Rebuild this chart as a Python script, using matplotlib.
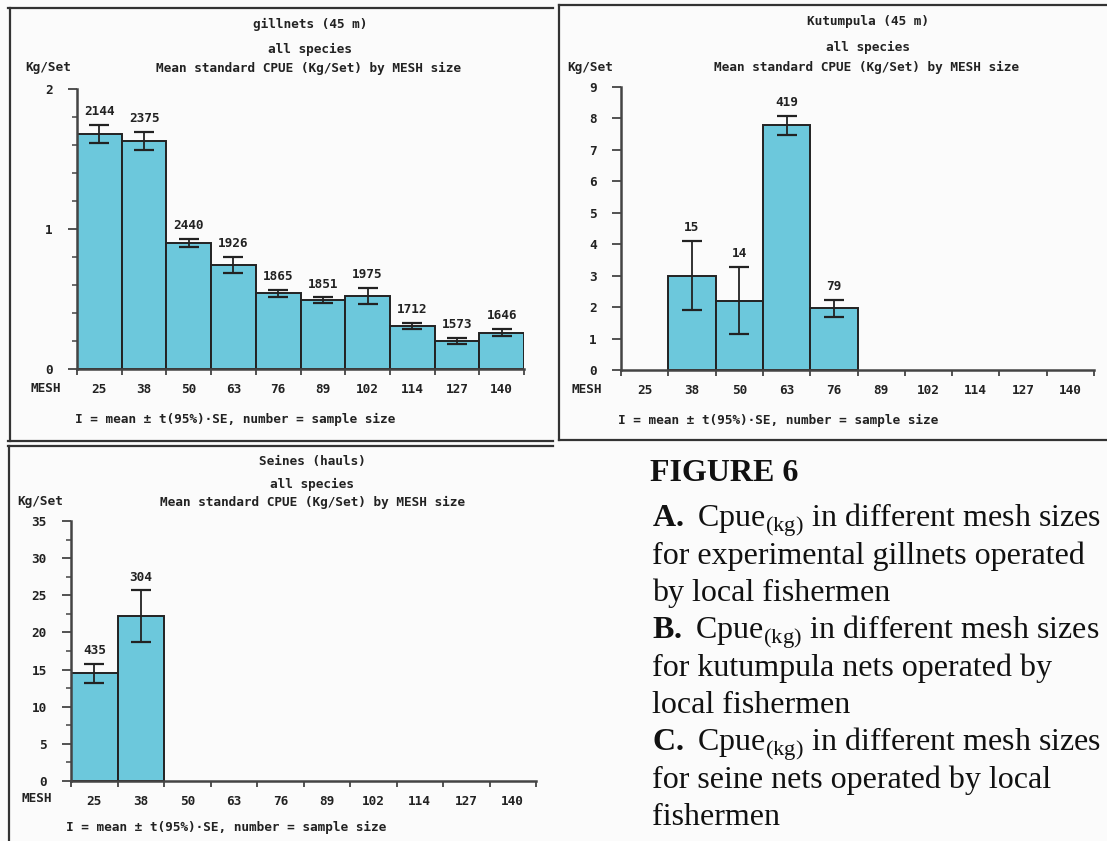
import numpy as np
import matplotlib
matplotlib.use("Agg")
import matplotlib.pyplot as plt
from matplotlib.lines import Line2D
from matplotlib.ticker import MultipleLocator

# mesh size classes (mm)
mesh = ['25', '38', '50', '63', '76', '89', '102', '114', '127', '140']

# A. gillnets (45 m)
gill_mean = [1.68, 1.63, 0.90, 0.74, 0.54, 0.49, 0.52, 0.31, 0.20, 0.26]
gill_err = [0.065, 0.066, 0.032, 0.057, 0.026, 0.021, 0.058, 0.022, 0.022, 0.027]
gill_n = [2144, 2375, 2440, 1926, 1865, 1851, 1975, 1712, 1573, 1646]

# B. kutumpula (45 m), None = no data
kut_mean = [None, 3.0, 2.21, 7.78, 1.96, None, None, None, None, None]
kut_err = [None, 1.1, 1.06, 0.30, 0.26, None, None, None, None, None]
kut_n = [None, 15, 14, 419, 79, None, None, None, None, None]

# C. seines (hauls)
sei_mean = [14.5, 22.2, None, None, None, None, None, None, None, None]
sei_err = [1.25, 3.45, None, None, None, None, None, None, None, None]
sei_n = [435, 304, None, None, None, None, None, None, None, None]

W, H = 1107, 841
BAR = '#6cc8dc'
INK = '#222222'
MONO = 'DejaVu Sans Mono'
FS = 9.2

plt.rcParams['mathtext.fontset'] = 'custom'
plt.rcParams['mathtext.rm'] = 'Liberation Serif'
plt.rcParams['mathtext.bf'] = 'Liberation Serif:bold'

fig = plt.figure(figsize=(W / 100, H / 100), dpi=100)
fig.patch.set_facecolor('#fbfbfb')


def fx(x):
    return x / W


def fy(y):
    return 1 - y / H


def ftext(x, y, s, **kw):
    kw.setdefault('ha', 'center')
    kw.setdefault('va', 'center')
    fig.text(fx(x), fy(y), s, family=MONO, weight='bold', fontsize=FS, color=INK, **kw)


def fline(xs, ys):
    fig.add_artist(Line2D([fx(v) for v in xs], [fy(v) for v in ys],
                          transform=fig.transFigure, color='#333333', lw=1.6))


def panel(rect, means, errs, counts, ymax, major, minor):
    ax = fig.add_axes([fx(rect[0]), fy(rect[3]), fx(rect[2] - rect[0]), (rect[3] - rect[1]) / H])
    ax.set_facecolor('none')
    idx = [i for i, m in enumerate(means) if m is not None]
    vals = [means[i] for i in idx]
    ers = [errs[i] for i in idx]
    ax.bar(idx, vals, width=1.0, color=BAR, edgecolor=INK, linewidth=1.4, zorder=2)
    ax.errorbar(idx, vals, yerr=ers, fmt='none', ecolor=INK, elinewidth=1.3,
                capsize=7, capthick=1.6, zorder=3)
    for i, v, e in zip(idx, vals, ers):
        ax.annotate(str(counts[i]), (i, v + e), xytext=(0, 5), textcoords='offset points',
                    ha='center', va='bottom', family=MONO, weight='bold',
                    fontsize=FS, color=INK)
    ax.set_xlim(-0.5, 9.5)
    ax.set_ylim(0, ymax)
    for s in ['top', 'right']:
        ax.spines[s].set_visible(False)
    for s in ['left', 'bottom']:
        ax.spines[s].set_color('#444444')
        ax.spines[s].set_linewidth(1.8)
    ax.set_xticks(range(10))
    ax.set_xticklabels(mesh)
    ax.set_xticks(np.arange(-0.5, 10, 1), minor=True)
    ax.tick_params(axis='x', which='major', length=0, pad=10)
    ax.tick_params(axis='x', which='minor', length=4, width=1.3, color='#444444')
    ax.yaxis.set_major_locator(MultipleLocator(major))
    if minor:
        ax.yaxis.set_minor_locator(MultipleLocator(minor))
    ax.tick_params(axis='y', which='major', length=6.5, width=1.3, color='#444444', pad=11)
    ax.tick_params(axis='y', which='minor', length=3.5, width=1.1, color='#444444')
    for lab in ax.get_xticklabels() + ax.get_yticklabels():
        lab.set_family(MONO)
        lab.set_weight('bold')
        lab.set_fontsize(FS)
        lab.set_color(INK)
    return ax


note = 'I = mean \u00b1 t(95%)\u00b7SE, number = sample size'
sub = 'Mean standard CPUE (Kg/Set) by MESH size'

# A
panel((77, 89, 524, 369), gill_mean, gill_err, gill_n, 2, 1, 0.2)
ftext(310, 24, 'gillnets (45 m)')
ftext(310, 49, 'all species')
ftext(309, 68, sub)
ftext(48, 68, 'Kg/Set')
ftext(46, 388, 'MESH')
ftext(75, 419, note, ha='left')

# B
panel((621, 87, 1094, 370), kut_mean, kut_err, kut_n, 9, 1, None)
ftext(868, 22, 'Kutumpula (45 m)')
ftext(868, 47, 'all species')
ftext(867, 67, sub)
ftext(590, 67, 'Kg/Set')
ftext(587, 389, 'MESH')
ftext(618, 420, note, ha='left')

# C
panel((71, 521, 536, 781), sei_mean, sei_err, sei_n, 35, 5, 2.5)
ftext(312, 461, 'Seines (hauls)')
ftext(312, 484, 'all species')
ftext(312, 502, sub)
ftext(40, 502, 'Kg/Set')
ftext(37, 799, 'MESH')
ftext(66, 827, note, ha='left')

# panel frames
fline([8, 553], [8, 8])
fline([10, 10], [8, 441])
fline([8, 553], [441, 441])
fline([8, 553], [446, 446])
fline([9, 9], [446, 841])
fline([559, 1107], [5, 5])
fline([559, 559], [5, 440])
fline([559, 1107], [440, 440])

# caption
serif = 'Liberation Serif'
fig.text(fx(650), fy(481), 'FIGURE 6', family=serif, weight='bold', fontsize=23,
         color='#111111', va='baseline')
caption = [
    r'$\mathbf{A.}$ Cpue$_{\mathrm{(kg)}}$ in different mesh sizes',
    'for experimental gillnets operated',
    'by local fishermen',
    r'$\mathbf{B.}$ Cpue$_{\mathrm{(kg)}}$ in different mesh sizes',
    'for kutumpula nets operated by',
    'local fishermen',
    r'$\mathbf{C.}$ Cpue$_{\mathrm{(kg)}}$ in different mesh sizes',
    'for seine nets operated by local',
    'fishermen',
]
base = 527
for k, line in enumerate(caption):
    fig.text(fx(652), fy(base + k * 37.25), line, family=serif, fontsize=23,
             color='#111111', va='baseline')

fig.savefig('out.png', dpi=100, facecolor=fig.get_facecolor())
